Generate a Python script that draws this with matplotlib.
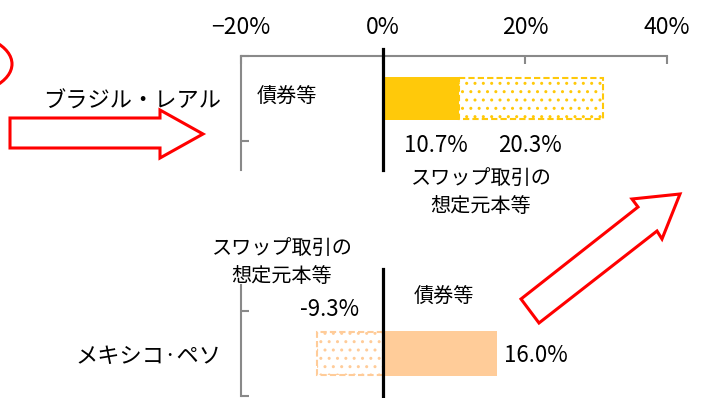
import matplotlib
matplotlib.use("Agg")
import matplotlib.pyplot as plt
from matplotlib.patches import Polygon, Ellipse

plt.rcParams['font.family'] = ['Noto Sans CJK JP', 'DejaVu Sans']
plt.rcParams['hatch.linewidth'] = 1.0

# Data (% share)
currencies = ['ブラジル・レアル', 'メキシコ·ペソ']
bond_share = [10.7, 16.0]
swap_share = [20.3, -9.3]
bar_colors = ['#FFC90A', '#FFCC99']
x_ticks = [-20, 0, 20, 40]
x_ticklabels = ['−20%', '0%', '20%', '40%']
bond_label = '債券等'
swap_label = ['スワップ取引の', '想定元本等']

W, H = 713, 398
gray = '#898989'
fig = plt.figure(figsize=(W / 100, H / 100), dpi=100)


def px_axes(l, t, r, b, **kw):
    # axes placed by pixel box (left, top, right, bottom)
    return fig.add_axes([l / W, 1 - b / H, (r - l) / W, (b - t) / H], **kw)


ax_top = px_axes(241, 56, 667, 170)
ax_bot = px_axes(241, 285, 667, 396)
ylims = [(0.841, -0.5), (0.5, -0.806)]
heights = [0.5, 0.53]
zero_tops = [1.06, 1.144]

for i, ax in enumerate([ax_top, ax_bot]):
    ax.barh(0, bond_share[i], height=heights[i], color=bar_colors[i], zorder=2)
    left = bond_share[i] if swap_share[i] > 0 else 0
    ax.barh(0, swap_share[i], left=left, height=heights[i] - 0.02, color='white',
            edgecolor=bar_colors[i], hatch='..', linestyle=(0, (3, 1.5)),
            linewidth=1.5, zorder=2)
    ax.axvline(0, ymin=0, ymax=zero_tops[i], color='black', lw=2.3,
               clip_on=False, zorder=3)
    ax.set_xlim(-20, 40)
    ax.set_ylim(*ylims[i])
    ax.set_yticks([0])
    ax.set_yticklabels([currencies[i]], fontsize=16)
    ax.set_yticks([-0.5, 0.5], minor=True)
    ax.tick_params(axis='y', which='major', length=0, pad=14)
    ax.tick_params(axis='y', which='minor', direction='in', length=6,
                   width=1.5, color=gray)
    for s in ['right', 'bottom', 'top']:
        ax.spines[s].set_visible(False)
    ax.spines['left'].set_color(gray)
    ax.spines['left'].set_linewidth(1.5)
    ax.patch.set_alpha(0)

# top axis with percentage ticks
ax_top.spines['top'].set_visible(True)
ax_top.spines['top'].set_color(gray)
ax_top.spines['top'].set_linewidth(1.5)
ax_top.xaxis.tick_top()
ax_top.set_xticks(x_ticks, x_ticklabels)
ax_top.tick_params(axis='x', direction='in', length=6, width=1.5, color=gray,
                   labelsize=16.5, pad=12)
ax_bot.set_xticks([])

# overlay in pixel coordinates for labels and arrows
ov = fig.add_axes([0, 0, 1, 1], zorder=5)
ov.set_xlim(0, W)
ov.set_ylim(H, 0)
ov.axis('off')
ov.patch.set_alpha(0)

ov.text(287, 97, bond_label, fontsize=14.5, ha='center', va='center')
ov.text(436, 146, f'{bond_share[0]:.1f}%', fontsize=16, ha='center', va='center')
ov.text(530, 146, f'{swap_share[0]:.1f}%', fontsize=16, ha='center', va='center')
ov.text(481, 178, swap_label[0], fontsize=14.5, ha='center', va='center')
ov.text(481, 207, swap_label[1], fontsize=14.5, ha='center', va='center')

ov.text(282, 248, swap_label[0], fontsize=14.5, ha='center', va='center')
ov.text(282, 277, swap_label[1], fontsize=14.5, ha='center', va='center')
ov.text(330, 309, f'{swap_share[1]:.1f}%', fontsize=16, ha='center', va='center')
ov.text(444, 297, bond_label, fontsize=14.5, ha='center', va='center')
ov.text(504, 356, f'{bond_share[1]:.1f}%', fontsize=16, ha='left', va='center')

# red highlight shapes
red = '#FF0000'
ov.add_patch(Polygon([(10, 118), (160, 118), (160, 110), (203, 134), (160, 158),
                      (160, 148), (10, 148)], closed=True, facecolor='white',
                     edgecolor=red, lw=2.2))
ov.add_patch(Polygon([(680, 194), (632, 199), (638, 207), (521, 299), (539, 323),
                      (657, 231), (662, 239)], closed=True, facecolor='white',
                     edgecolor=red, lw=2.2))
ov.add_patch(Ellipse((-48, 64), 120, 64, facecolor='none', edgecolor=red, lw=2.2))

fig.savefig('out.png', dpi=100)
